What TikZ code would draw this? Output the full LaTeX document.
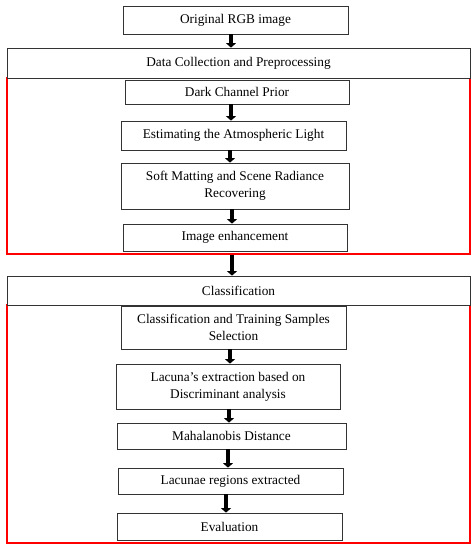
\documentclass[tikz,border=0pt]{standalone}
\usepackage{fontspec}
\setmainfont{Liberation Serif}
\usetikzlibrary{arrows.meta}
\begin{document}
\begin{tikzpicture}[x=1pt,y=-1pt,
  box/.style={draw=black!80,line width=0.8pt,fill=white,inner sep=0pt,align=center,font=\fontsize{13.3}{17}\selectfont},
  redbox/.style={draw=red,line width=1.4pt,inner sep=0pt},
  arr/.style={line width=4.5pt,-{Triangle[width=10pt,length=4.5pt]}}]
\useasboundingbox (0,0) rectangle (476,550);
\newcommand{\bx}[6]{\node[box,minimum width=#4-#2,minimum height=#5-#3] (#1) at ({(#2+#4)/2},{(#3+#5)/2}) {#6};}
% red boxes
\node[redbox,minimum width=463,minimum height=176] (r1) at (238.5,166) {};
\node[redbox,minimum width=463,minimum height=238] (r2) at (238.5,424) {};
\bx{orig}{123}{6}{348}{34}{Original RGB image}
\bx{data}{7}{48}{470}{78}{Data Collection and Preprocessing}
\bx{dark}{125}{80}{349}{104}{Dark Channel Prior}
\bx{est}{121}{121}{346}{150}{Estimating the Atmospheric Light}
\bx{soft}{121}{163}{349}{209}{Soft Matting and Scene Radiance\\Recovering}
\bx{img}{123}{224}{347}{251}{Image enhancement}
\bx{cls}{7}{276}{470}{305}{Classification}
\bx{train}{121}{306}{346}{349}{Classification and Training Samples\\Selection}
\bx{lac}{116}{364}{340}{409}{Lacuna's extraction based on\\Discriminant analysis}
\bx{mah}{117}{423}{346}{449}{Mahalanobis Distance}
\bx{reg}{118}{468}{343}{494}{Lacunae regions extracted}
\bx{eva}{117}{513}{342}{540}{Evaluation}
% arrow axes
\coordinate (a1) at (231,0);
\coordinate (a2) at (231,0);
\coordinate (a3) at (230,0);
\coordinate (a4) at (232,0);
\coordinate (a5) at (232,0);
\coordinate (a6) at (230,0);
\coordinate (a7) at (229,0);
\coordinate (a8) at (228,0);
\coordinate (a9) at (226,0);
% arrows
\draw[arr] (orig.south -| a1) -- (data.north -| a1);
\draw[arr] (dark.south -| a2) -- (est.north -| a2);
\draw[arr] (est.south -| a3) -- (soft.north -| a3);
\draw[arr] (soft.south -| a4) -- (img.north -| a4);
\draw[arr] (r1.south -| a5) -- (cls.north -| a5);
\draw[arr] (train.south -| a6) -- (lac.north -| a6);
\draw[arr] (lac.south -| a7) -- (mah.north -| a7);
\draw[arr] (mah.south -| a8) -- (reg.north -| a8);
\draw[arr] (reg.south -| a9) -- (eva.north -| a9);
\end{tikzpicture}
\end{document}
